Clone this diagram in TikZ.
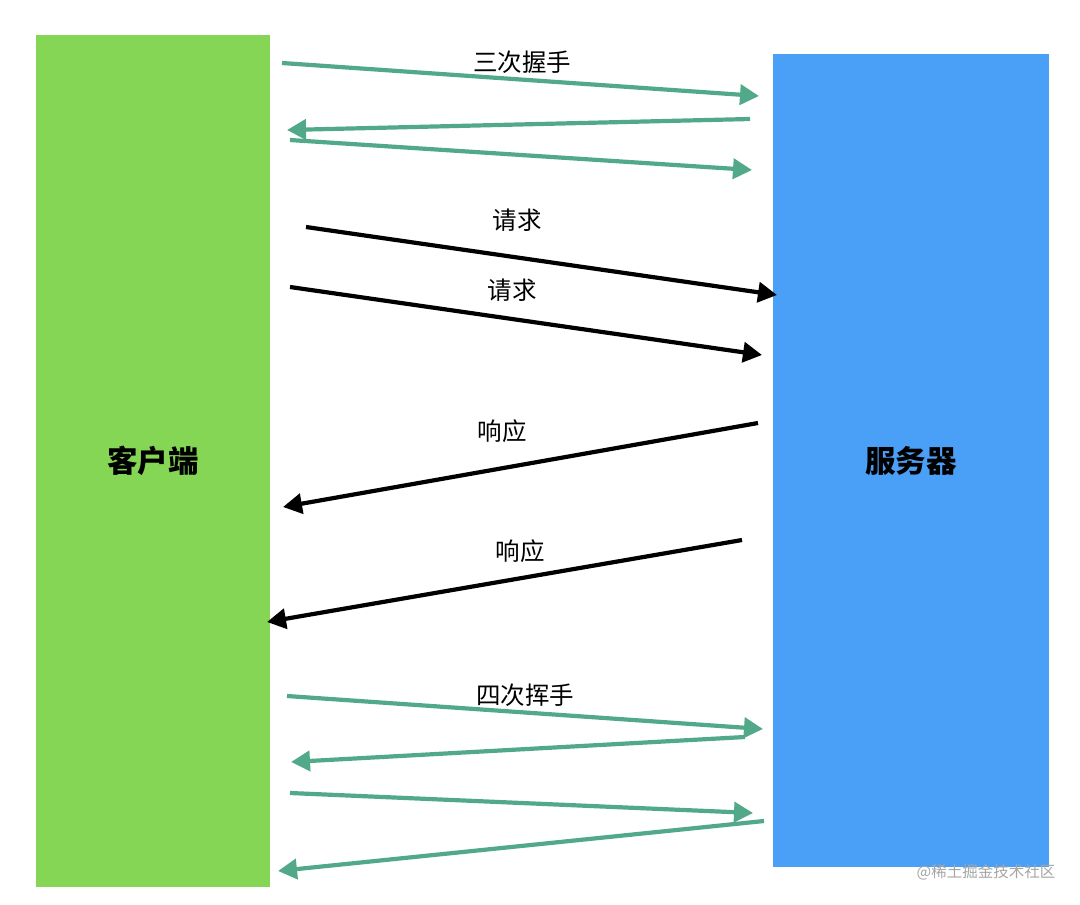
\documentclass[tikz,border=0pt]{standalone}
\usepackage{fontspec}
\setmainfont{Noto Sans CJK SC}
\newfontfamily\cjk{Noto Sans CJK SC}
\usetikzlibrary{arrows.meta}
\definecolor{cgreen}{HTML}{85D654}
\definecolor{cblue}{HTML}{4A9FF6}
\definecolor{harrow}{HTML}{52A98A}
\tikzset{
  side/.style={draw=none, inner sep=0pt, anchor=north west},
  lbl/.style={font=\cjk\fontsize{24.5}{27}\selectfont, inner sep=0pt},
  big/.style={font=\cjk\bfseries\fontsize{30.5}{33}\selectfont, inner sep=0pt},
  hs/.style={draw=harrow, line width=4.2pt, -{Triangle[length=19pt,width=20pt]}},
  req/.style={draw=black, line width=4.2pt, -{Triangle[length=19pt,width=20pt]}},
}
\begin{document}
\begin{tikzpicture}[x=1pt,y=-1pt]
\useasboundingbox (0,0) rectangle (1080,905);
\fill[white] (0,0) rectangle (1080,905);
\node[side, fill=cgreen, minimum width=234pt, minimum height=852pt] (client) at (36,35) {};
\node[side, fill=cblue, minimum width=276pt, minimum height=813pt] (server) at (773,54) {};
\node[big] (clientlbl) at (153,461) {客户端};
\node[big] (serverlbl) at (911,461) {服务器};
% handshake
\coordinate (a1s) at (282,63);  \coordinate (a1e) at (759,96);
\coordinate (a2s) at (750,119); \coordinate (a2e) at (287,130);
\coordinate (a3s) at (290,140); \coordinate (a3e) at (752,170);
\draw[hs] (a1s) -- (a1e);
\draw[hs] (a2s) -- (a2e);
\draw[hs] (a3s) -- (a3e);
\node[lbl] (l1) at (522,62) {三次握手};
% requests
\coordinate (a4s) at (306,227); \coordinate (a4e) at (777,295);
\coordinate (a5s) at (290,287); \coordinate (a5e) at (762,355);
\draw[req] (a4s) -- (a4e);
\draw[req] (a5s) -- (a5e);
\node[lbl] (l2) at (517,220) {请求};
\node[lbl] (l3) at (512,290) {请求};
% responses
\coordinate (a6s) at (758,423); \coordinate (a6e) at (283,507);
\coordinate (a7s) at (742,540); \coordinate (a7e) at (267,622);
\draw[req] (a6s) -- (a6e);
\draw[req] (a7s) -- (a7e);
\node[lbl] (l4) at (502,431) {响应};
\node[lbl] (l5) at (520,551) {响应};
% wave
\coordinate (a8s) at (287,696);  \coordinate (a8e) at (763,729);
\coordinate (a9s) at (745,737);  \coordinate (a9e) at (291,762);
\coordinate (a10s) at (290,793); \coordinate (a10e) at (753,813);
\coordinate (a11s) at (764,821); \coordinate (a11e) at (278,871);
\draw[hs] (a8s) -- (a8e);
\draw[hs] (a9s) -- (a9e);
\draw[hs] (a10s) -- (a10e);
\draw[hs] (a11s) -- (a11e);
\node[lbl] (l6) at (525,695) {四次挥手};
\node[font=\cjk\fontsize{15.5}{18}\selectfont, text=black!35, inner sep=0pt] (wm) at (986,872) {@稀土掘金技术社区};
\end{tikzpicture}
\end{document}
